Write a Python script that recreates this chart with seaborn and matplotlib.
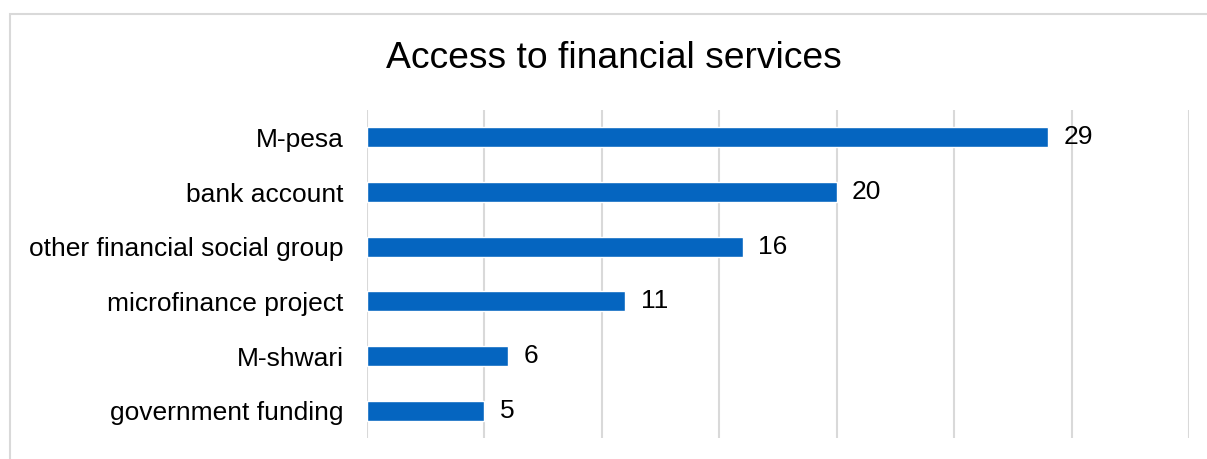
import matplotlib
matplotlib.use("Agg")
import matplotlib.pyplot as plt
from matplotlib.patches import Rectangle
import matplotlib.transforms as mtransforms
import seaborn as sns
import pandas as pd

categories = ["M-pesa", "bank account", "other financial social group",
              "microfinance project", "M-shwari", "government funding"]
values = [29, 20, 16, 11, 6, 5]
title = "Access to financial services"

sns.set_theme(style="white")
plt.rcParams["font.family"] = ["Liberation Sans", "DejaVu Sans"]

df = pd.DataFrame({"service": categories, "count": values})

W, H = 1207, 459
fig = plt.figure(figsize=(W / 100, H / 100), dpi=100)
ax = fig.add_axes([367 / W, 1 - 438 / H, (1189 - 367) / W, (438 - 110) / H])

sns.barplot(data=df, y="service", x="count", orient="h", color="#0565C0",
            width=0.36, saturation=1, ax=ax)

ax.set_xlim(0, 35)
ax.set_ylim(5.5, -0.5)
ax.set_xticks(range(0, 36, 5))
ax.grid(axis="x", color="#D9D9D9", linewidth=1.5)
ax.set_axisbelow(True)
ax.tick_params(axis="x", length=0, labelbottom=False)
ax.tick_params(axis="y", length=0, labelsize=19, pad=17, colors="black")
ax.set_xlabel("")
ax.set_ylabel("")
for s in ax.spines.values():
    s.set_visible(False)

texts = ax.bar_label(ax.containers[0], labels=[str(v) for v in values],
                     padding=11, fontsize=19, color="black")
shift = mtransforms.ScaledTranslation(0, -1.5 / 72, fig.dpi_scale_trans)
for t in texts:
    t.set_transform(t.get_transform() + shift)

fig.text(614 / W, 1 - 58 / H, title, ha="center", va="center",
         fontsize=26.8, color="black")

fig.patches.append(Rectangle((9.5 / W, -0.1), 1.2, 1 - 14 / H + 0.1,
                             transform=fig.transFigure, fill=False,
                             edgecolor="#D9D9D9", linewidth=1.5))

fig.savefig("out.png", dpi=100, facecolor="white")
